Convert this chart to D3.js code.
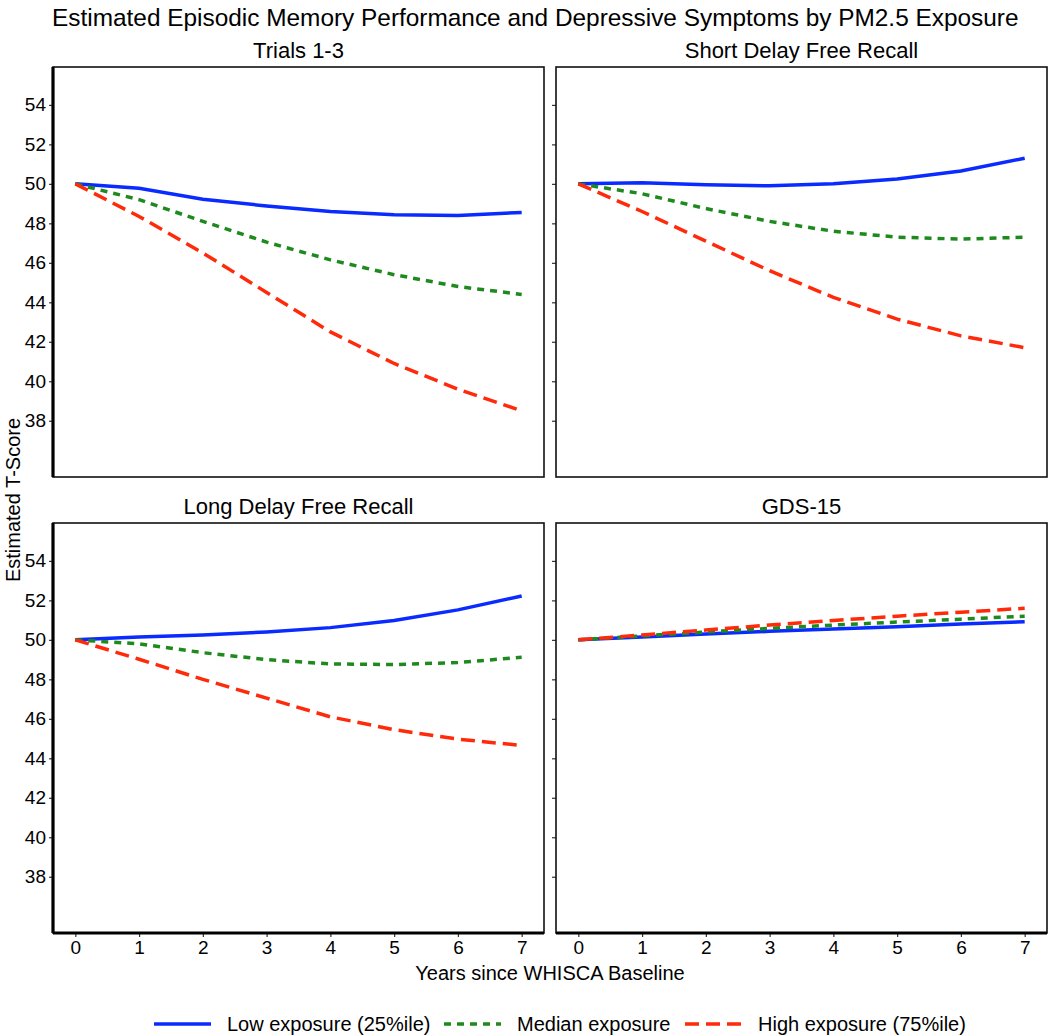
<!DOCTYPE html>
<html>
<head>
<meta charset="utf-8">
<script src="https://cdn.jsdelivr.net/npm/d3@7"></script>
<style>
  html, body { margin: 0; padding: 0; background: #fff; }
  svg { display: block; }
  text { font-family: "Liberation Sans", Arial, sans-serif; fill: #000; }
</style>
</head>
<body>
<svg id="chart" width="1050" height="1036"></svg>
<script>
// ---------------- DATA ----------------
const years = [0, 1, 2, 3, 4, 5, 6, 7];
const panelTitles = ["Trials 1-3", "Short Delay Free Recall", "Long Delay Free Recall", "GDS-15"];
const seriesNames = ["Low exposure (25%ile)", "Median exposure", "High exposure (75%ile)"];
const yTicks = [38, 40, 42, 44, 46, 48, 50, 52, 54];
const xTicks = [0, 1, 2, 3, 4, 5, 6, 7];

const trialsLow    = [50, 49.78, 49.22, 48.88, 48.6, 48.43, 48.4, 48.55];
const trialsMedian = [50, 49.2, 48.1, 47.05, 46.15, 45.4, 44.8, 44.4];
const trialsHigh   = [50, 48.35, 46.5, 44.5, 42.5, 40.9, 39.6, 38.5];

const shortLow    = [50, 50.05, 49.95, 49.9, 50.0, 50.25, 50.65, 51.3];
const shortMedian = [50, 49.5, 48.75, 48.1, 47.6, 47.3, 47.2, 47.3];
const shortHigh   = [50, 48.6, 47.1, 45.6, 44.25, 43.15, 42.3, 41.7];

const longLow    = [50, 50.15, 50.25, 50.4, 50.62, 50.98, 51.52, 52.22];
const longMedian = [50, 49.8, 49.35, 49.0, 48.78, 48.75, 48.85, 49.12];
const longHigh   = [50, 49.02, 48.0, 47.05, 46.1, 45.45, 44.97, 44.65];

const gdsLow    = [50, 50.15, 50.3, 50.43, 50.55, 50.67, 50.8, 50.92];
const gdsMedian = [50, 50.2, 50.4, 50.58, 50.75, 50.9, 51.05, 51.2];
const gdsHigh   = [50, 50.25, 50.5, 50.75, 50.98, 51.2, 51.4, 51.6];

const panelSeries = [
  [trialsLow, trialsMedian, trialsHigh],
  [shortLow, shortMedian, shortHigh],
  [longLow, longMedian, longHigh],
  [gdsLow, gdsMedian, gdsHigh]
];

// ---------------- STYLE ----------------
const colors = ["#0a2bff", "#1e8a1e", "#ff2a0a"];
const dashes = [null, "7,6", "14,7"];
const lineW = 3.5;

const svg = d3.select("#chart");
const colX = [53, 556], rowY = [67, 523];
const pw = 491, ph = 410;

const x = d3.scaleLinear().domain([-0.35, 7.35]).range([0, pw]);
const y = d3.scaleLinear().domain([35.15, 55.92]).range([ph, 0]);

// Title
svg.append("text").attr("x", 52).attr("y", 26)
  .style("font-size", "24.4px").text("Estimated Episodic Memory Performance and Depressive Symptoms by PM2.5 Exposure");

const line = d3.line().x((d, i) => x(years[i])).y(d => y(d));

panelTitles.forEach((title, p) => {
  const c = p % 2, r = Math.floor(p / 2);
  const g = svg.append("g").attr("transform", `translate(${colX[c]},${rowY[r]})`);

  // strip title
  g.append("text").attr("x", pw / 2).attr("y", -9).attr("text-anchor", "middle")
    .style("font-size", "22px").text(title);

  // y axis ticks
  const ya = g.append("g").call(d3.axisLeft(y).tickValues(yTicks).tickSize(4).tickFormat(c === 0 ? d3.format("d") : ""));
  ya.select(".domain").remove();
  ya.selectAll(".tick line").attr("stroke", "#333").attr("stroke-width", 1.2);
  ya.selectAll(".tick text").style("font-size", "19px").style("font-family", "'Liberation Sans', Arial, sans-serif").attr("x", -7).attr("fill", "#000");

  if (r === 1) {
    const xa = g.append("g").attr("transform", `translate(0,${ph})`)
      .call(d3.axisBottom(x).tickValues(xTicks).tickSize(4).tickFormat(d3.format("d")));
    xa.select(".domain").remove();
    xa.selectAll(".tick line").attr("stroke", "#333").attr("stroke-width", 1.2);
    xa.selectAll(".tick text").style("font-size", "19px").style("font-family", "'Liberation Sans', Arial, sans-serif").attr("y", 8).attr("fill", "#000");
  }

  // series lines
  panelSeries[p].forEach((vals, s) => {
    g.append("path").datum(vals).attr("d", line)
      .attr("fill", "none").attr("stroke", colors[s]).attr("stroke-width", lineW)
      .attr("stroke-dasharray", dashes[s]);
  });

  // border
  g.append("rect").attr("x", 0).attr("y", 0).attr("width", pw).attr("height", ph)
    .attr("fill", "none").attr("stroke", "#111").attr("stroke-width", 1.6);
  if (c === 0) g.append("line").attr("x1", 0).attr("x2", 0).attr("y1", 0).attr("y2", ph)
    .attr("stroke", "#000").attr("stroke-width", 3.2);
  if (r === 1) g.append("line").attr("x1", 0).attr("x2", pw).attr("y1", ph).attr("y2", ph)
    .attr("stroke", "#000").attr("stroke-width", 3.2);
});

// axis titles
svg.append("text").attr("x", 550).attr("y", 980).attr("text-anchor", "middle")
  .style("font-size", "20px").text("Years since WHISCA Baseline");
svg.append("text").attr("transform", "translate(20,500) rotate(-90)").attr("text-anchor", "middle")
  .style("font-size", "20px").text("Estimated T-Score");

// legend
const legX = [154, 444, 685];
seriesNames.forEach((name, s) => {
  const lg = svg.append("g").attr("transform", `translate(${legX[s]},1024)`);
  lg.append("line").attr("x1", 0).attr("x2", 57).attr("y1", 0).attr("y2", 0)
    .attr("stroke", colors[s]).attr("stroke-width", lineW).attr("stroke-dasharray", dashes[s]);
  lg.append("text").attr("x", 73).attr("y", 7).style("font-size", "20px").text(name);
});
</script>
</body>
</html>
